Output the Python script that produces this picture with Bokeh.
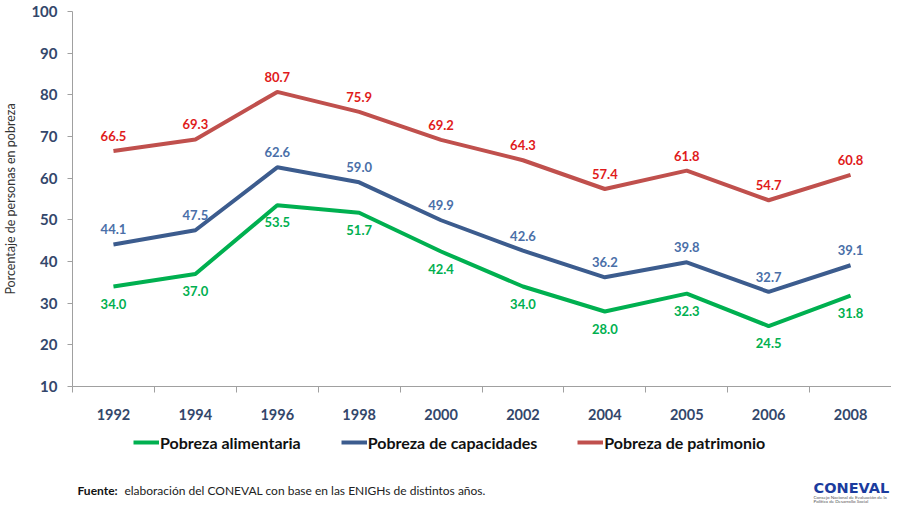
from bokeh.plotting import figure
from bokeh.layouts import column
from bokeh.models import Range1d, FixedTicker, Legend, LegendItem, Label
from bokeh.core.properties import value
from bokeh.embed import file_html
from bokeh.resources import INLINE

years = ["1992", "1994", "1996", "1998", "2000", "2002", "2004", "2005", "2006", "2008"]
alimentaria = [34.0, 37.0, 53.5, 51.7, 42.4, 34.0, 28.0, 32.3, 24.5, 31.8]
capacidades = [44.1, 47.5, 62.6, 59.0, 49.9, 42.6, 36.2, 39.8, 32.7, 39.1]
patrimonio = [66.5, 69.3, 80.7, 75.9, 69.2, 64.3, 57.4, 61.8, 54.7, 60.8]
y_ticks = [10, 20, 30, 40, 50, 60, 70, 80, 90, 100]
series_names = ["Pobreza alimentaria", "Pobreza de capacidades", "Pobreza de patrimonio"]

FONT = "Lato"
AXIS_TXT = "#33476B"
AXIS_LINE = "#A0A0A0"
W = 891
H1 = 430
H2 = 73
LEFT = 71

xs = list(range(len(years)))

p = figure(width=W, height=H1, output_backend="svg", toolbar_location=None,
           x_range=Range1d(-0.5, len(years) - 0.5), y_range=Range1d(10, 100),
           min_border_left=LEFT, min_border_right=0, min_border_top=11, min_border_bottom=H1 - 386)
p.outline_line_color = None
p.xgrid.visible = False
p.ygrid.visible = False

# y axis
p.yaxis.ticker = FixedTicker(ticks=y_ticks)
p.yaxis.major_label_text_font = FONT
p.yaxis.major_label_text_font_style = "bold"
p.yaxis.major_label_text_font_size = "15px"
p.yaxis.major_label_text_color = AXIS_TXT
p.yaxis.major_label_standoff = 10
p.yaxis.major_tick_out = 5
p.yaxis.major_tick_in = 0
p.yaxis.minor_tick_line_color = None
p.yaxis.axis_line_color = AXIS_LINE
p.yaxis.major_tick_line_color = AXIS_LINE
p.yaxis.axis_label = "Porcentaje de personas en pobreza"
p.yaxis.axis_label_text_font = FONT
p.yaxis.axis_label_text_font_style = "normal"
p.yaxis.axis_label_text_font_size = "12.5px"
p.yaxis.axis_label_text_color = "#333333"
p.yaxis.axis_label_standoff = 10

# x axis
p.xaxis.ticker = FixedTicker(ticks=xs, minor_ticks=[i - 0.5 for i in range(len(years) + 1)])
p.xaxis.major_label_overrides = {i: y for i, y in enumerate(years)}
p.xaxis.major_label_text_font = FONT
p.xaxis.major_label_text_font_style = "bold"
p.xaxis.major_label_text_font_size = "14.5px"
p.xaxis.major_label_text_color = AXIS_TXT
p.xaxis.major_label_standoff = 16
p.xaxis.major_tick_line_color = None
p.xaxis.major_tick_out = 0
p.xaxis.major_tick_in = 0
p.xaxis.minor_tick_out = 6
p.xaxis.minor_tick_in = 0
p.xaxis.minor_tick_line_color = AXIS_LINE
p.xaxis.axis_line_color = AXIS_LINE

line_colors = ["#00B050", "#3C5C8E", "#C0504D"]
label_colors = ["#00B050", "#4A6FA8", "#E01B1B"]
offsets = [17, -15, -15]
data = [alimentaria, capacidades, patrimonio]

for vals, lc, tc, off in zip(data, line_colors, label_colors, offsets):
    p.line(xs, vals, line_color=lc, line_width=4)
    p.text(xs, vals, text=[f"{v:.1f}" for v in vals], text_align="center",
           text_baseline="middle", y_offset=off, text_color=tc,
           text_font=value(FONT), text_font_style="bold", text_font_size="13px")

# bottom strip: legend + source note + logo (x data units = pixels)
p2 = figure(width=W, height=H2, output_backend="svg", toolbar_location=None,
            x_range=Range1d(LEFT, W), y_range=Range1d(0, H2),
            min_border_left=LEFT, min_border_right=0, min_border_top=0, min_border_bottom=0)
p2.outline_line_color = None
p2.axis.visible = False
p2.grid.visible = False

swatches = []
for vals, lc in zip(data, line_colors):
    r = p2.line(xs, vals, line_color=lc, line_width=4)
    r.visible = False
    swatches.append(r)
legend = Legend(items=[LegendItem(label=n, renderers=[r]) for n, r in zip(series_names, swatches)],
                orientation="horizontal", location=(61, 51),
                border_line_color=None, background_fill_alpha=0,
                inactive_fill_alpha=0,
                glyph_width=26, glyph_height=20, label_standoff=1, spacing=40,
                padding=0, margin=0,
                label_text_font=FONT, label_text_font_style="bold",
                label_text_font_size="16px", label_text_color="#111111")
p2.add_layout(legend, "center")

p2.add_layout(Label(x=76, y=13, text="Fuente:", text_font=FONT, text_font_style="bold",
                    text_font_size="12px", text_color="#111111", text_baseline="middle"))
p2.add_layout(Label(x=123, y=13,
                    text="elaboración del CONEVAL con base en las ENIGHs de distintos años.",
                    text_font=FONT, text_font_size="12px", text_color="#222222", text_baseline="middle"))
p2.add_layout(Label(x=813, y=16, text="CONEVAL", text_font="DejaVu Sans",
                    text_font_style="bold", text_font_size="14.5px", text_color="#1B3C9E",
                    text_baseline="middle"))
p2.add_layout(Label(x=813, y=6, text="Consejo Nacional de Evaluación de la",
                    text_font=FONT, text_font_size="4.5px", text_color="#555555", text_baseline="middle"))
p2.add_layout(Label(x=813, y=2, text="Política de Desarrollo Social",
                    text_font=FONT, text_font_size="4.5px", text_color="#555555", text_baseline="middle"))

layout = column(p, p2, spacing=0)
open("out.html", "w").write(file_html(layout, INLINE))
